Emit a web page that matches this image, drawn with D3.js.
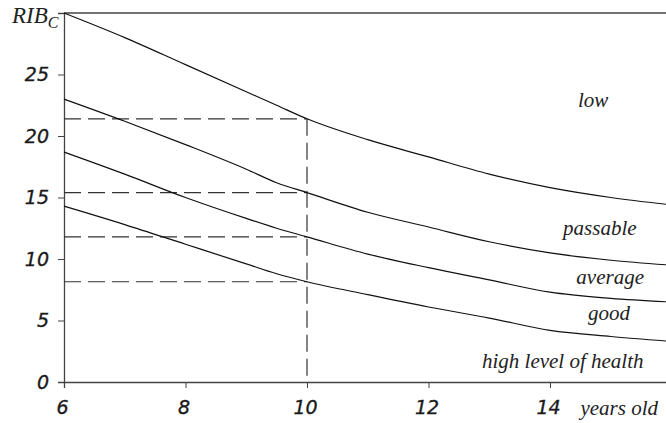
<!DOCTYPE html>
<html><head><meta charset="utf-8">
<script src="https://cdn.jsdelivr.net/npm/d3@7"></script>
<style>
html,body{margin:0;padding:0;background:#fff;}
svg{display:block;}
</style></head>
<body>
<svg id="chart" width="666" height="423"></svg>
<script>
// ---- data ----
const ages = [6, 7, 8, 9, 9.5, 10, 11, 12, 13, 14, 15, 16];
const lowBoundary      = [30.0, 28.0, 25.8, 23.6, 22.5, 21.4, 19.7, 18.3, 16.9, 15.8, 15.0, 14.4];
const passableBoundary = [23.0, 21.2, 19.3, 17.3, 16.2, 15.4, 13.8, 12.6, 11.4, 10.5, 9.9, 9.5];
const averageBoundary  = [18.7, 16.9, 15.0, 13.3, 12.5, 11.8, 10.4, 9.3, 8.3, 7.3, 6.8, 6.5];
const goodBoundary     = [14.3, 12.8, 11.2, 9.6, 8.8, 8.15, 7.1, 6.1, 5.2, 4.2, 3.7, 3.3];
const refAge = 10;
const refValues = [21.4, 15.4, 11.8, 8.15];
const xTicks = [6, 8, 10, 12, 14];
const yTicks = [0, 5, 10, 15, 20, 25];
const zoneLabels = ["low", "passable", "average", "good", "high level of health"];
const zoneAnchors = [[14.71, 22.36], [14.82, 11.95], [14.99, 7.97], [14.97, 5.04], [14.21, 1.14]];
const xTitle = "years old";

// ---- layout ----
const svg = d3.select("#chart");
const x = d3.scaleLinear().domain([6, 16]).range([64, 671.5]);
const y = d3.scaleLinear().domain([0, 30]).range([382, 13]);
const axisColor = "#444";
const numFont = "'DejaVu Sans', Verdana, sans-serif";
const serif = "'Liberation Serif', 'Times New Roman', serif";

// top border
svg.append("line")
  .attr("x1", x(6)).attr("x2", 666)
  .attr("y1", y(30)).attr("y2", y(30))
  .attr("stroke", axisColor).attr("stroke-width", 1.3);

// axes
const yAxis = svg.append("g").attr("transform", `translate(${x(6)},0)`)
  .call(d3.axisLeft(y).tickValues(yTicks).tickSize(6).tickPadding(9).tickFormat(d3.format("d")));
const xAxis = svg.append("g").attr("transform", `translate(0,${y(0)})`)
  .call(d3.axisBottom(x).tickValues(xTicks).tickSize(6).tickPadding(13).tickFormat(d3.format("d")));
[yAxis, xAxis].forEach(g => {
  g.select(".domain").attr("stroke", axisColor).attr("stroke-width", 1.3);
  g.selectAll(".tick line").attr("stroke", axisColor).attr("stroke-width", 1);
  g.selectAll(".tick text")
    .attr("font-family", numFont).attr("font-style", "italic")
    .attr("font-size", 19).attr("fill", "#1a1a1a")
    .attr("stroke", "#1a1a1a").attr("stroke-width", 0.35);
});
xAxis.selectAll(".tick text").attr("dx", -2);

// reference dashed lines
const dash = "17,7";
svg.append("g").selectAll("line.h").data(refValues).join("line")
  .attr("x1", x(6)).attr("x2", x(refAge))
  .attr("y1", d => y(d)).attr("y2", d => y(d))
  .attr("stroke", "#333").attr("stroke-width", 1.2).attr("stroke-dasharray", dash);
svg.append("line")
  .attr("x1", x(refAge)).attr("x2", x(refAge))
  .attr("y1", y(d3.max(refValues))).attr("y2", y(0))
  .attr("stroke", "#333").attr("stroke-width", 1.2).attr("stroke-dasharray", dash);

// curves
const line = d3.line().x((d, i) => x(ages[i])).y(d => y(d)).curve(d3.curveMonotoneX);
svg.append("g").selectAll("path.c")
  .data([lowBoundary, passableBoundary, averageBoundary, goodBoundary]).join("path")
  .attr("d", line).attr("fill", "none").attr("stroke", "#111").attr("stroke-width", 1.2);

// zone labels
svg.append("g").selectAll("text").data(zoneLabels).join("text")
  .attr("x", (d, i) => x(zoneAnchors[i][0]))
  .attr("y", (d, i) => y(zoneAnchors[i][1]))
  .attr("text-anchor", "middle")
  .attr("font-family", serif).attr("font-style", "italic")
  .attr("font-size", 21).attr("fill", "#222")
  .text(d => d);

// x title
svg.append("text").attr("x", 658).attr("y", 415).attr("text-anchor", "end")
  .attr("font-family", serif).attr("font-style", "italic")
  .attr("font-size", 21).attr("fill", "#222").text(xTitle);

// y title RIB_C
const yt = svg.append("text").attr("x", 12).attr("y", 23)
  .attr("font-family", serif).attr("font-style", "italic")
  .attr("font-size", 23).attr("fill", "#222");
yt.append("tspan").text("RIB");
yt.append("tspan").attr("font-size", 16).attr("dy", 5).text("C");
</script>
</body></html>
